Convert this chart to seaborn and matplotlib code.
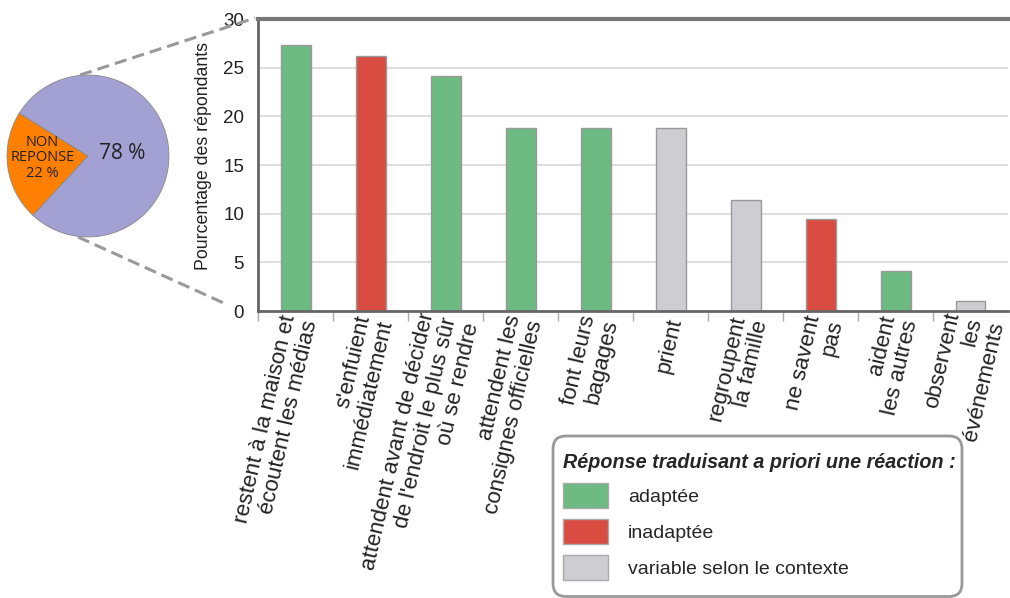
import matplotlib
matplotlib.use("Agg")
import matplotlib.pyplot as plt
import matplotlib.transforms as mtransforms
from matplotlib.lines import Line2D
from matplotlib.patches import Patch, FancyBboxPatch
import seaborn as sns
import pandas as pd

categories = [
    "restent à la maison et\nécoutent les médias",
    "s'enfuient\nimmédiatement",
    "attendent avant de décider\nde l'endroit le plus sûr\noù se rendre",
    "attendent les\nconsignes officielles",
    "font leurs\nbagages",
    "prient",
    "regroupent\nla famille",
    "ne savent\npas",
    "aident\nles autres",
    "observent\nles\névénements",
]
values = [27.3, 26.2, 24.1, 18.8, 18.8, 18.8, 11.4, 9.5, 4.1, 1.0]
reaction = ["adaptée", "inadaptée", "adaptée", "adaptée", "adaptée",
            "variable selon le contexte", "variable selon le contexte",
            "inadaptée", "adaptée", "variable selon le contexte"]
legend_labels = ["adaptée", "inadaptée", "variable selon le contexte"]
legend_title = "Réponse traduisant a priori une réaction :"
yticks = [0, 5, 10, 15, 20, 25, 30]
pie_values = [22, 78]
pie_labels = ["NON\nREPONSE\n22 %", "78 %"]

colors = {"adaptée": "#6DBA83", "inadaptée": "#D84C42",
          "variable selon le contexte": "#CECED2"}

sns.set_theme(style="white")
plt.rcParams["font.family"] = ["Liberation Sans", "DejaVu Sans"]

fig = plt.figure(figsize=(10.10, 5.98), dpi=100)
W, H = 1010, 598

# Legend frame (rounded box), drawn beneath everything else
fig.add_artist(FancyBboxPatch((5.53, 0.015), 4.09, 1.605,
                              boxstyle="round,pad=0,rounding_size=0.13",
                              transform=fig.dpi_scale_trans,
                              facecolor="none", edgecolor="#999", linewidth=2,
                              zorder=-1))

ax = fig.add_axes([258 / W, 1 - 311 / H, 750 / W, 292 / H])

df = pd.DataFrame({"cat": categories, "val": values, "type": reaction})
sns.barplot(data=df, x="cat", y="val", hue="type", palette=colors,
            dodge=False, width=0.4, legend=False, ax=ax,
            edgecolor="#9a9a9a", linewidth=1.0, saturation=1)

ax.set_ylim(0, 30)
ax.set_xlim(-0.5, len(categories) - 0.5)
ax.set_yticks(yticks)
ax.set_yticklabels([str(t) for t in yticks], fontsize=13.5, color="#222")
ax.yaxis.grid(True, color="#d8d8d8", linewidth=1.2)
ax.set_axisbelow(True)
ax.tick_params(axis="y", length=0, pad=10)
ax.set_ylabel("Pourcentage des répondants", fontsize=12.8, color="#222")
ax.yaxis.set_label_coords(-0.062, 0.531)
ax.set_xlabel("")

ax.set_xticks(range(len(categories)))
ax.set_xticklabels(categories, rotation=77, ha="right", va="center",
                   rotation_mode="anchor", fontsize=16, color="#222",
                   multialignment="right", linespacing=1.1)
ax.tick_params(axis="x", length=0, pad=5)
shift = mtransforms.ScaledTranslation(5 / 100, 0, fig.dpi_scale_trans)
for lbl in ax.get_xticklabels():
    lbl.set_transform(lbl.get_transform() + shift)
ax.set_xticks([i - 0.5 for i in range(len(categories))], minor=True)
ax.tick_params(axis="x", which="minor", length=7, width=1, color="#aaa", bottom=True)

for s in ["left", "bottom", "top"]:
    ax.spines[s].set_color("#666")
ax.spines["left"].set_linewidth(2)
ax.spines["bottom"].set_linewidth(2)
ax.spines["top"].set_linewidth(3)
ax.spines["top"].set_color("#777")
ax.spines["right"].set_visible(False)

# Pie
pax = fig.add_axes([3 / W, 1 - (156 + 85) / H, 170 / W, 170 / H])
wedges, _ = pax.pie(pie_values, colors=["#FF8000", "#A3A1D4"], startangle=148,
                    counterclock=True,
                    wedgeprops=dict(edgecolor="#888", linewidth=0.6))
pax.set_xlim(-1.05, 1.05)
pax.set_ylim(-1.05, 1.05)
pax.set_aspect("equal")
pax.axis("off")
pax.text(-0.56, -0.02, pie_labels[0], ha="center", va="center", fontsize=10.5,
         color="#222", family=["Open Sans", "DejaVu Sans"], linespacing=1.05)
pax.text(0.42, 0.03, pie_labels[1], ha="center", va="center", fontsize=15,
         color="#222", family=["Open Sans", "DejaVu Sans"])

# Dashed connecting lines
for (x0, y0, x1, y1) in [(80, 75, 255, 18), (78, 237, 228, 305)]:
    fig.add_artist(Line2D([x0 / W, x1 / W], [1 - y0 / H, 1 - y1 / H],
                          transform=fig.transFigure, color="#999",
                          linestyle=(0, (4, 2)), linewidth=2.2))

# Legend
handles = [Patch(facecolor=colors[l], edgecolor="#aaa", label=l) for l in legend_labels]
leg = fig.legend(handles=handles, loc="upper left",
                 bbox_to_anchor=(563 / W, 1 - 453 / H), fontsize=14,
                 title=legend_title, alignment="left",
                 title_fontproperties={"weight": "bold", "style": "italic", "size": 14.2},
                 frameon=False, handlelength=2.32, handleheight=1.6,
                 labelspacing=0.57, handletextpad=1.03, borderpad=0,
                 borderaxespad=0)
leg.set_zorder(2)

fig.savefig("out.png", dpi=100)
